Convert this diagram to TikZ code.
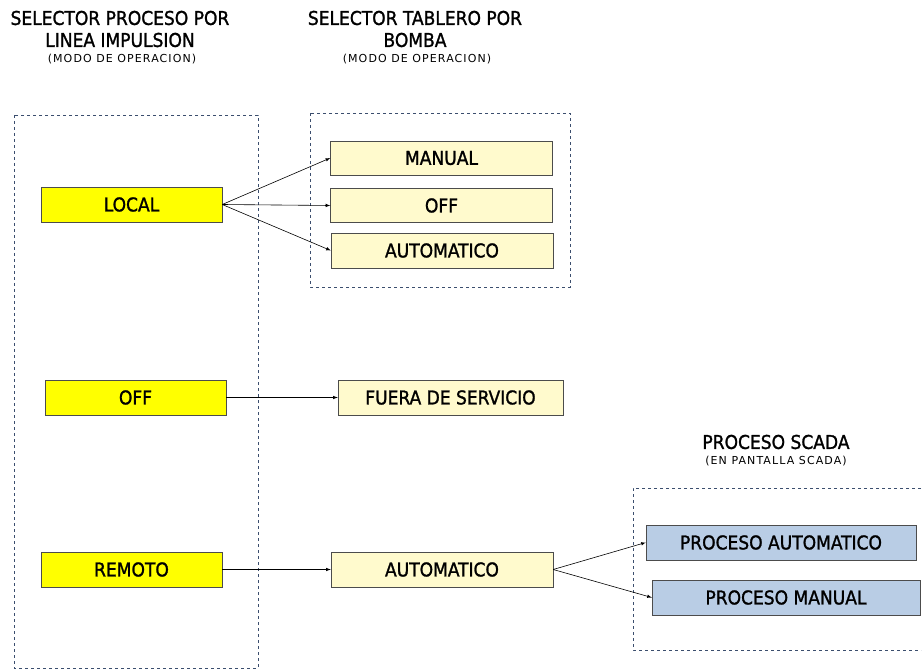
\documentclass[tikz,border=0pt]{standalone}
\usepackage{fontspec}
\setmainfont{DejaVu Sans Condensed}
\newfontfamily\labelfont[FakeBold=1.3]{DejaVu Sans Condensed}
\newfontfamily\widefont[LetterSpace=10]{DejaVu Sans}
\usetikzlibrary{positioning}
\usetikzlibrary{calc}
\usetikzlibrary{arrows}

\definecolor{selyellow}{HTML}{FFFF00}
\definecolor{paleyellow}{HTML}{FFFACD}
\definecolor{scadablue}{HTML}{B9CDE5}
\definecolor{dashblue}{HTML}{3B4E6E}

\begin{document}
\begin{tikzpicture} [x=1pt, y=-1pt,
    selbox/.style={draw=black!70, fill=selyellow, minimum width=181pt, minimum height=35pt, inner sep=0pt, font=\labelfont\fontsize{19}{21}\selectfont},
    tabbox/.style={draw=black!70, fill=paleyellow, minimum width=222pt, minimum height=34pt, inner sep=0pt, font=\labelfont\fontsize{19}{21}\selectfont},
    scadabox/.style={draw=black!70, fill=scadablue, minimum width=269pt, minimum height=35pt, inner sep=0pt, font=\labelfont\fontsize{19}{21}\selectfont},
    group/.style={draw=dashblue, dashed, line width=0.9pt},
    heading/.style={align=center, font=\labelfont\fontsize{19}{22}\selectfont},
    subheading/.style={font=\widefont\fontsize{11}{12}\selectfont}]
    \useasboundingbox (0, 0) rectangle (922, 671);
    % Selector de proceso, tablero y pantalla SCADA
    \node (H1) [heading] at (120, 29) {SELECTOR PROCESO POR\\LINEA IMPULSION};
    \node (H1s) [subheading] at (122, 59) {(MODO DE OPERACION)};
    \node (H2) [heading] at (415, 29) {SELECTOR TABLERO POR\\BOMBA};
    \node (H2s) [subheading] at (417, 59) {(MODO DE OPERACION)};
    \node (H3) [heading] at (776, 442) {PROCESO SCADA};
    \node (H3s) [subheading] at (776, 461) {(EN PANTALLA SCADA)};

    \draw[group] (14, 115) rectangle (258, 668);
    \draw[group] (310, 113) rectangle (570, 287);
    \draw[group] (921, 488) -- (633, 488) -- (633, 650) -- (921, 650);

    \node (LOCAL) [selbox] at (131.5, 204.5) {LOCAL};
    \node (OFFsel) [selbox] at (135.5, 397.5) {OFF};
    \node (REMOTO) [selbox] at (131.5, 569.5) {REMOTO};

    \node (MANUAL) [tabbox] at (441.5, 158) {MANUAL};
    \node (OFFtab) [tabbox] at (441.5, 205.5) {OFF};
    \node (AUTOtab) [tabbox, minimum height=35pt] at (442, 250.5) {AUTOMATICO};
    \node (FUERA) [tabbox, minimum width=225pt, minimum height=35pt] at (450.5, 397.5) {FUERA DE SERVICIO};
    \node (AUTOrem) [tabbox, minimum height=35pt] at (442, 569.5) {AUTOMATICO};

    \node (PAUTO) [scadabox, minimum width=270pt] at (781, 542.5) {PROCESO AUTOMATICO};
    \node (PMAN) [scadabox, minimum width=268pt] at (786, 597.5) {PROCESO MANUAL};

    \draw[-latex, line width=0.6pt] (LOCAL.east) -- (MANUAL.west);
    \draw[-latex, line width=0.6pt] (LOCAL.east) -- (OFFtab.west);
    \draw[-latex, line width=0.6pt] (LOCAL.east) -- (AUTOtab.west);
    \draw[-latex, line width=0.6pt] (OFFsel.east) -- (FUERA.west);
    \draw[-latex, line width=0.6pt] (REMOTO.east) -- (AUTOrem.west);
    \draw[-latex, line width=0.6pt] (AUTOrem.east) -- (PAUTO.west);
    \draw[-latex, line width=0.6pt] (AUTOrem.east) -- (PMAN.west);

\end{tikzpicture}
\end{document}
